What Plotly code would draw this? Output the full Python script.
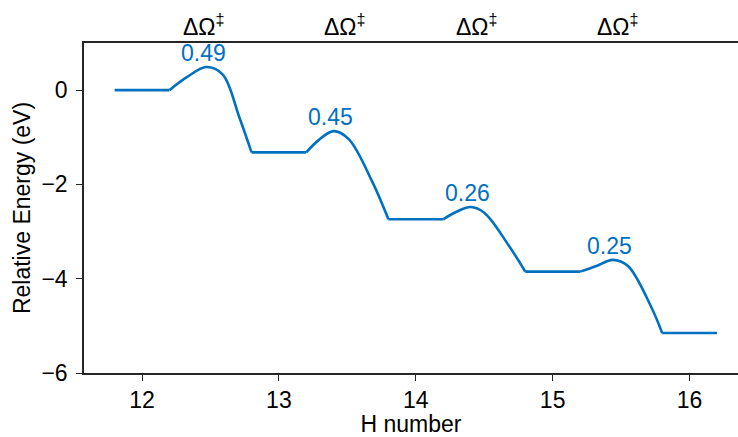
import plotly.graph_objects as go

# Hydrogen count on the x axis and energy plateaus (eV) between hops
h_number = [12, 13, 14, 15, 16]
plateau_start = [11.8, 12.8, 13.8, 14.8, 15.8]
plateau_end = [12.2, 13.2, 14.2, 15.2, 16.2]
levels = [0.00, -1.32, -2.74, -3.85, -5.15]

# Barrier heights (eV) and transition-state positions
barriers = [0.49, 0.45, 0.26, 0.25]
ts_x = [12.47, 13.40, 14.40, 15.44]

# Shoulder points along each barrier path
rise_x = [12.33, 13.29, 14.29, 15.32]
rise_y = [0.28, -1.06, -2.59, -3.73]
fall1_x = [12.59, 13.51, 14.50, 15.55]
fall1_y = [0.33, -1.04, -2.60, -3.73]
fall2_x = [12.71, 13.68, 14.68, 15.72]
fall2_y = [-0.57, -1.93, -3.30, -4.60]

top_label_x = [12.45, 13.48, 14.445, 15.48]
top_label = "ΔΩ<sup>‡</sup>"

BLUE = "#0070C0"
FONT = "Liberation Sans, Arial, sans-serif"
AXIS = "#262626"
FS = 23

fig = go.Figure()

# Flat plateaus
for xs, xe, lv in zip(plateau_start, plateau_end, levels):
    fig.add_trace(go.Scatter(
        x=[xs, xe], y=[lv, lv], mode="lines",
        line=dict(color=BLUE, width=2.6), showlegend=False, hoverinfo="skip"))

# Smooth barrier crossings
for i in range(len(barriers)):
    e0, e1 = levels[i], levels[i + 1]
    peak = e0 + barriers[i]
    xs = [plateau_end[i], rise_x[i], ts_x[i], fall1_x[i], fall2_x[i], plateau_start[i + 1]]
    ys = [e0, rise_y[i], peak, fall1_y[i], fall2_y[i], e1]
    fig.add_trace(go.Scatter(
        x=xs, y=ys, mode="lines",
        line=dict(color=BLUE, width=2.6, shape="spline", smoothing=1),
        showlegend=False, hoverinfo="skip"))
    fig.add_annotation(
        x=ts_x[i], y=peak, text=f"{barriers[i]:.2f}", showarrow=False,
        xshift=-3, yshift=14, yanchor="middle",
        font=dict(family=FONT, size=FS, color=BLUE))

for tx in top_label_x:
    fig.add_annotation(
        x=tx, xref="x", y=1, yref="paper", text=top_label, showarrow=False,
        yshift=18, yanchor="middle",
        font=dict(family=FONT, size=FS, color="black"))

fig.update_xaxes(
    range=[11.576, 16.354], tickvals=h_number, ticks="outside", ticklen=6,
    tickwidth=1.3, tickcolor=AXIS, showline=True, linecolor=AXIS, linewidth=1.5,
    mirror=True, showgrid=False, zeroline=False,
    tickfont=dict(family=FONT, size=FS, color="black"),
    title=dict(text="H number", font=dict(family=FONT, size=FS, color="black"),
               standoff=2))
fig.update_yaxes(
    range=[-6, 1.0], tickvals=[-6, -4, -2, 0], ticks="outside", ticklen=6,
    tickwidth=1.3, tickcolor=AXIS, showline=True, linecolor=AXIS, linewidth=1.5,
    showgrid=False, zeroline=False, ticklabelstandoff=4,
    tickfont=dict(family=FONT, size=FS, color="black"),
    title=dict(text="Relative Energy (eV)",
               font=dict(family=FONT, size=FS, color="black"), standoff=4))

fig.update_layout(
    width=738, height=437,
    margin=dict(l=84, r=0, t=43, b=64, autoexpand=False),
    paper_bgcolor="white", plot_bgcolor="white",
)

fig.write_html("out.html")
